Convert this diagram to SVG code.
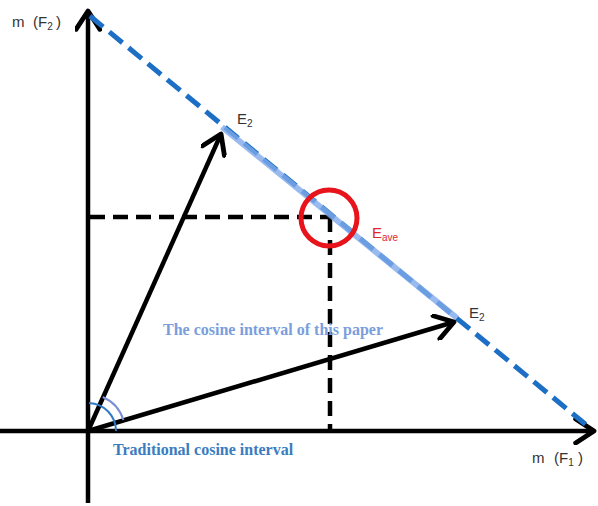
<svg xmlns="http://www.w3.org/2000/svg" width="598" height="506" viewBox="0 0 598 506">
<defs>
<marker id="ah" viewBox="0 0 14 14" refX="11.5" refY="7" markerWidth="6" markerHeight="6" orient="auto" markerUnits="strokeWidth">
<path d="M2,0.8 L11.5,7 L2,13.2" fill="none" stroke="#000" stroke-width="2.5" stroke-linecap="round" stroke-linejoin="round"/>
</marker>
</defs>
<style>
.lbl{font-family:"Liberation Sans",Arial,sans-serif;font-size:15px;fill:#333}
.sub{font-size:10px}
.ser{font-family:"Liberation Serif","Times New Roman",serif;font-size:16px;font-weight:bold}
.blk{stroke:#000;stroke-width:4.5;fill:none}
.dash{stroke:#000;stroke-width:4.5;fill:none;stroke-dasharray:15,8}
</style>
<rect width="598" height="506" fill="#fff"/>
<g id="connectors">
<line class="blk" x1="0" y1="431" x2="594" y2="431" marker-end="url(#ah)"/>
<line class="blk" x1="88" y1="503" x2="88" y2="11" marker-end="url(#ah)"/>
<line class="dash" x1="90" y1="217" x2="330" y2="217"/>
<line class="dash" x1="330" y1="217" x2="330" y2="429"/>
<line x1="90" y1="16" x2="590" y2="428" stroke="#1c6fc4" stroke-width="5" stroke-dasharray="17,8"/>
<line x1="222" y1="127" x2="457" y2="318" stroke="#7fa9ea" stroke-width="6" stroke-opacity="0.8"/>
<line class="blk" x1="88" y1="431" x2="221" y2="134" marker-end="url(#ah)"/>
<line class="blk" x1="88" y1="431" x2="454" y2="322" marker-end="url(#ah)"/>
<path d="M89,403 A28,28 0 0 1 116,431" fill="none" stroke="#2f7ac8" stroke-width="2"/>
<path d="M102.7,397 A37,37 0 0 1 123.4,420" fill="none" stroke="#7b8fd6" stroke-width="2"/>
</g>
<g id="eave">
<circle cx="329" cy="218" r="28" fill="none" stroke="#e8141b" stroke-width="5"/>
<text x="372" y="238" class="lbl" style="fill:#e0262b">E<tspan class="sub" dy="3">ave</tspan></text>
</g>
<g id="axis-f2"><text y="27" class="lbl"><tspan x="12">m</tspan><tspan x="33">(F</tspan><tspan class="sub" dy="3">2</tspan><tspan dy="-3" x="56">)</tspan></text></g>
<g id="axis-f1"><text y="463" class="lbl"><tspan x="532">m</tspan><tspan x="554">(F</tspan><tspan class="sub" dy="3">1</tspan><tspan dy="-3" x="578">)</tspan></text></g>
<g id="e2-top"><text x="237" y="124" class="lbl">E<tspan class="sub" dy="3">2</tspan></text></g>
<g id="e2-bottom"><text x="469" y="318" class="lbl">E<tspan class="sub" dy="3">2</tspan></text></g>
<g id="label-paper"><text x="163" y="335" class="ser" fill="#7a9edc">The cosine interval of this paper</text></g>
<g id="label-trad"><text x="113" y="455" class="ser" fill="#3a7cc0">Traditional cosine interval</text></g>
</svg>
